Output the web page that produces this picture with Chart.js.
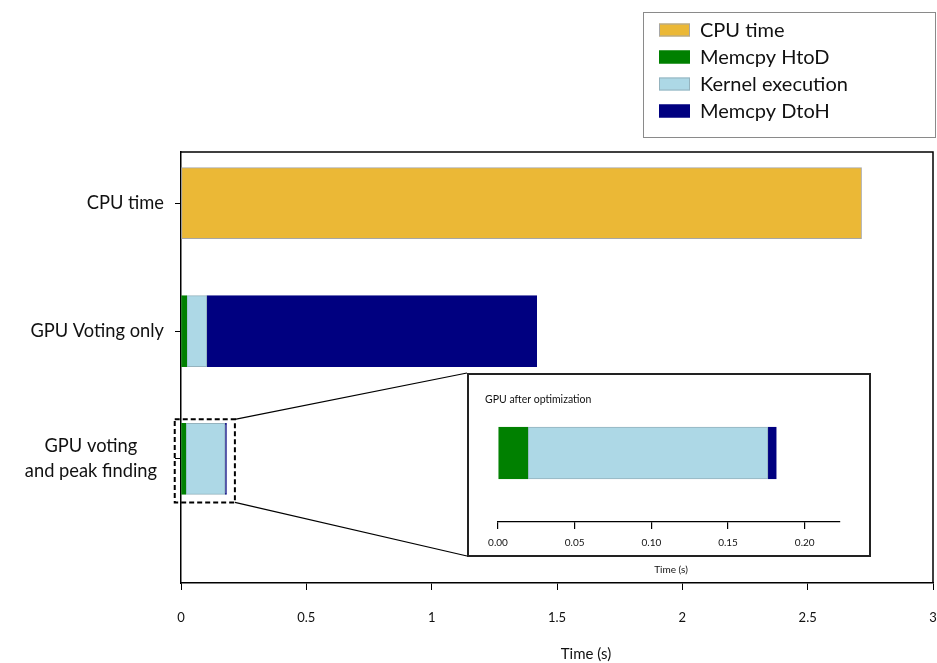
<!DOCTYPE html>
<html><head><meta charset="utf-8">
<script src="https://cdn.jsdelivr.net/npm/chart.js@4"></script>
<style>
html,body{margin:0;padding:0;background:#fff;}
#wrap{position:relative;width:937px;height:663px;overflow:hidden;}
#main{position:absolute;left:0;top:0;}
#inset{position:absolute;left:467px;top:373px;}
</style></head><body>
<div id="wrap">
<canvas id="main" width="937" height="663"></canvas>
<canvas id="inset" width="404" height="205"></canvas>
</div>
<script>
// ---- data ----
const categories = ["CPU time", "GPU Voting only", ["GPU voting", "and peak finding"]];
const seriesNames = ["CPU time", "Memcpy HtoD", "Kernel execution", "Memcpy DtoH"];
const cpuTime    = [2.715, 0, 0];
const memcpyHtoD = [0, 0.023, 0.0195];
const kernelExec = [0, 0.080, 0.1565];
const memcpyDtoH = [0, 1.316, 0.0055];
const xTicksMain  = [0, 0.5, 1, 1.5, 2, 2.5, 3];
const xTicksInset = [0, 0.05, 0.10, 0.15, 0.20];
const insetCategory = 2;
const insetTitle = "GPU after optimization";
const axisTitle = "Time (s)";

// ---- styles ----
const series = [cpuTime, memcpyHtoD, kernelExec, memcpyDtoH];
const fills   = ['#EBB836', '#008000', '#ADD8E6', '#000080'];
const borders = ['#A6A6A6', '#008000', '#95B3BE', '#000080'];
const FONT = 'Lato, "Open Sans", sans-serif';

function buildDatasets(catList, yOf) {
  const cum = catList.map(() => 0);
  return series.map((vals, k) => {
    const data = [];
    catList.forEach((ci, j) => {
      const v = vals[ci];
      if (v > 0) {
        data.push({ x: [cum[j], cum[j] + v], y: yOf(ci) });
        cum[j] += v;
      }
    });
    return {
      label: seriesNames[k], data,
      backgroundColor: fills[k], borderColor: borders[k],
      borderWidth: 1, borderSkipped: false, grouped: false
    };
  });
}

const mainPlugin = {
  id: 'mainDeco',
  beforeDraw(chart) {
    const c = chart.ctx;
    c.save(); c.fillStyle = '#fff'; c.fillRect(0, 0, chart.width, chart.height); c.restore();
  },
  afterDraw(chart) {
    const c = chart.ctx, a = chart.chartArea;
    const xs = chart.scales.x, ys = chart.scales.y;
    c.save();
    // frame top & right
    c.strokeStyle = '#000'; c.lineWidth = 1.5;
    c.beginPath();
    c.moveTo(a.left, a.top); c.lineTo(a.right, a.top); c.lineTo(a.right, a.bottom);
    c.stroke();
    // category labels
    c.fillStyle = '#111'; c.font = '18.3px ' + FONT; c.textBaseline = 'middle';
    categories.forEach((lab, i) => {
      const lines = Array.isArray(lab) ? lab : [lab];
      const y = ys.getPixelForValue(i);
      const right = 164, lh = 25;
      const w = Math.max(...lines.map(l => c.measureText(l).width));
      lines.forEach((l, j) => {
        const ly = y + (j - (lines.length - 1) / 2) * lh;
        if (lines.length > 1) { c.textAlign = 'center'; c.fillText(l, right - 7 - w / 2, ly); }
        else { c.textAlign = 'right'; c.fillText(l, right, ly); }
      });
    });
    // axis title
    c.font = '15px ' + FONT; c.textAlign = 'center';
    c.fillText(axisTitle, 586, 654);
    // zoom rectangle
    const rl = xs.getPixelForValue(-0.025), rr = xs.getPixelForValue(0.215);
    const rt = ys.getPixelForValue(insetCategory - 0.31), rb = ys.getPixelForValue(insetCategory + 0.34);
    c.lineWidth = 2; c.setLineDash([5, 3]);
    c.strokeRect(rl, rt, rr - rl, rb - rt);
    c.setLineDash([]);
    // connectors to inset box
    const ins = document.getElementById('inset');
    const ix = ins.offsetLeft, iy = ins.offsetTop, ib = iy + 183;
    c.lineWidth = 1.2;
    c.beginPath();
    c.moveTo(rr, rt); c.lineTo(ix, iy);
    c.moveTo(rr, rb); c.lineTo(ix, ib);
    c.stroke();
    // legend
    const lx = 643, ly = 12, lw = 292, lhgt = 125;
    c.fillStyle = '#fff'; c.fillRect(lx, ly, lw, lhgt);
    c.strokeStyle = '#8a8a8a'; c.lineWidth = 1; c.strokeRect(lx + 0.5, ly + 0.5, lw, lhgt);
    c.font = '20px ' + FONT; c.textAlign = 'left'; c.textBaseline = 'middle';
    chart.data.datasets.forEach((ds, k) => {
      const cy = 30 + k * 27;
      c.fillStyle = ds.backgroundColor; c.fillRect(659, cy - 6.5, 31, 13);
      c.strokeStyle = ds.borderColor; c.lineWidth = 1; c.strokeRect(659.5, cy - 6, 30, 12);
      c.fillStyle = '#111'; c.fillText(ds.label, 700, cy + 1);
    });
    c.restore();
  }
};

new Chart(document.getElementById('main'), {
  type: 'bar',
  data: { datasets: buildDatasets(categories.map((_, i) => i), i => i) },
  options: {
    responsive: false, animation: false, indexAxis: 'y', devicePixelRatio: 1,
    layout: { padding: { top: 152, right: 4, left: 0, bottom: 0 } },
    plugins: { legend: { display: false }, tooltip: { enabled: false } },
    datasets: { bar: { barThickness: 71 } },
    scales: {
      x: {
        type: 'linear', min: 0, max: 3,
        afterBuildTicks: s => { s.ticks = xTicksMain.map(v => ({ value: v })); },
        afterFit: s => { s.height = 80; s.paddingLeft = 0; s.paddingRight = 0; },
        grid: { drawOnChartArea: false, drawTicks: true, tickLength: 7, color: '#000', lineWidth: 1 },
        border: { display: true, color: '#000', width: 1.5 },
        ticks: { font: { family: FONT, size: 13 }, color: '#111', padding: 20, maxRotation: 0, callback: v => String(v) }
      },
      y: {
        type: 'linear', reverse: true, min: -0.4, max: 2.97, offset: false,
        afterBuildTicks: s => { s.ticks = categories.map((_, i) => ({ value: i })); },
        afterFit: s => { s.width = 181; s.paddingTop = 0; s.paddingBottom = 0; },
        grid: { offset: false, drawOnChartArea: false, drawTicks: true, tickLength: 6, color: '#000', lineWidth: 1 },
        border: { display: true, color: '#000', width: 1.5 },
        ticks: { display: false }
      }
    }
  },
  plugins: [mainPlugin]
});

const insetPlugin = {
  id: 'insetDeco',
  beforeDraw(chart) {
    const c = chart.ctx;
    c.save();
    c.fillStyle = '#fff'; c.fillRect(0, 0, 403, 183);
    c.fillStyle = '#111'; c.font = '10.5px ' + FONT; c.textAlign = 'left'; c.textBaseline = 'middle';
    c.fillText(insetTitle, 18, 27);
    c.restore();
  },
  afterDraw(chart) {
    const c = chart.ctx;
    c.save();
    c.strokeStyle = '#222'; c.lineWidth = 2;
    c.strokeRect(1, 1, 402, 182);
    c.fillStyle = '#111'; c.font = '10px ' + FONT; c.textAlign = 'center'; c.textBaseline = 'middle';
    c.fillText(axisTitle, 204, 197);
    c.restore();
  }
};

new Chart(document.getElementById('inset'), {
  type: 'bar',
  data: { datasets: buildDatasets([insetCategory], () => 0) },
  options: {
    responsive: false, animation: false, indexAxis: 'y', devicePixelRatio: 1,
    layout: { padding: { top: 11, right: 31, left: 31, bottom: 0 } },
    plugins: { legend: { display: false }, tooltip: { enabled: false } },
    datasets: { bar: { barThickness: 52 } },
    scales: {
      x: {
        type: 'linear', min: 0, max: 0.223,
        afterBuildTicks: s => { s.ticks = xTicksInset.map(v => ({ value: v })); },
        afterFit: s => { s.height = 56; s.paddingLeft = 0; s.paddingRight = 0; },
        grid: { drawOnChartArea: false, drawTicks: true, tickLength: 7, color: '#000', lineWidth: 1.2 },
        border: { display: true, color: '#000', width: 1.2 },
        ticks: { font: { family: FONT, size: 10 }, color: '#111', padding: 8, maxRotation: 0, callback: v => v.toFixed(2) }
      },
      y: { type: 'linear', display: false, min: -0.5, max: 0.5, offset: false }
    }
  },
  plugins: [insetPlugin]
});
</script>
</body></html>
